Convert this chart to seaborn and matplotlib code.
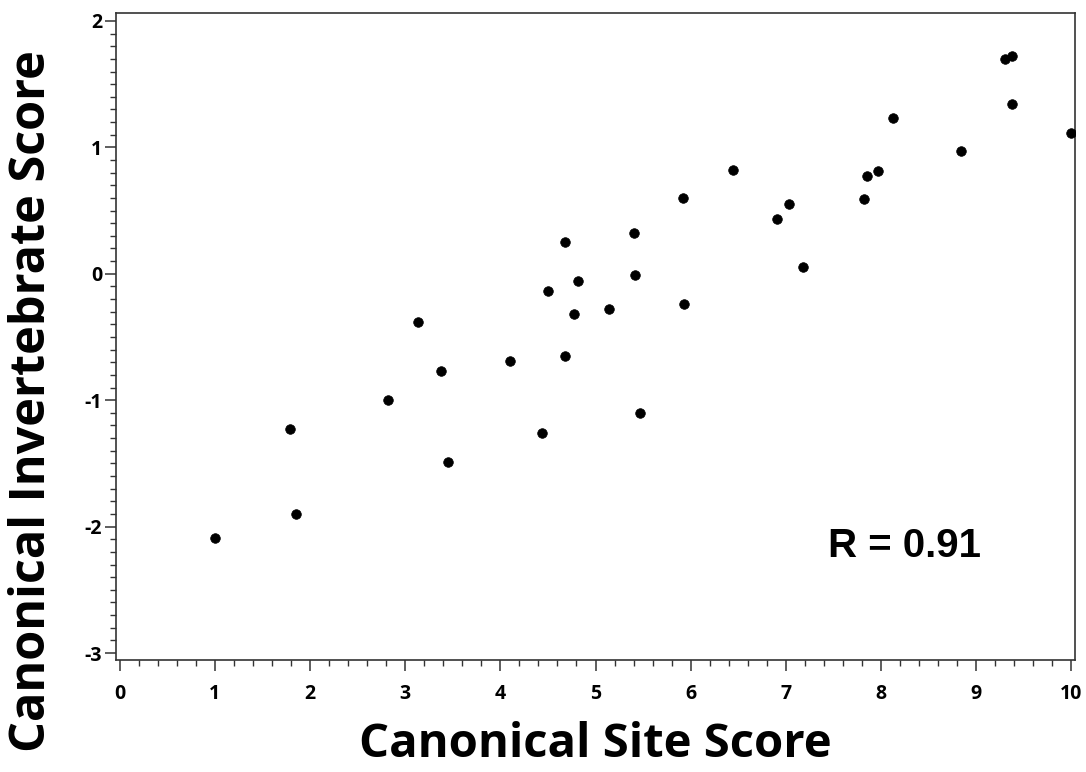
import matplotlib
matplotlib.use("Agg")
import matplotlib.pyplot as plt
import seaborn as sns
import pandas as pd
from matplotlib.ticker import MultipleLocator, FixedLocator

site_score = [1.00, 1.79, 1.85, 2.82, 3.13, 3.38, 3.45,
              5.92, 5.40, 4.68, 5.42, 4.82, 4.50, 5.93, 5.14, 4.77,
              4.10, 4.68, 5.47, 4.44,
              9.30, 9.38, 9.38, 10.00, 8.13, 8.84, 6.45, 7.97, 7.85,
              7.03, 6.91, 7.82, 7.18]
invert_score = [-2.09, -1.23, -1.90, -1.00, -0.38, -0.77, -1.49,
                0.60, 0.32, 0.25, -0.01, -0.06, -0.14, -0.24, -0.28, -0.32,
                -0.69, -0.65, -1.10, -1.26,
                1.70, 1.72, 1.34, 1.11, 1.23, 0.97, 0.82, 0.81, 0.77,
                0.55, 0.43, 0.59, 0.05]
x_ticks = [0, 1, 2, 3, 4, 5, 6, 7, 8, 9, 10]
y_ticks = [-3, -2, -1, 0, 1, 2]
annotation = "R = 0.91"

df = pd.DataFrame({"site": site_score, "invert": invert_score})

sns.set_theme(style="white")
plt.rcParams["font.family"] = ["Open Sans", "DejaVu Sans"]

fig = plt.figure(figsize=(10.86, 7.72), dpi=100)
ax = fig.add_axes([0.1068, 0.1451, 0.9899 - 0.1068, 0.9832 - 0.1451])

sns.scatterplot(data=df, x="site", y="invert", ax=ax, color="black",
                s=48, edgecolor="black", linewidth=0.5, zorder=3)

ax.set_xlim(-0.04, 10.04)
ax.set_ylim(-3.055, 2.063)
ax.xaxis.set_major_locator(FixedLocator(x_ticks))
ax.yaxis.set_major_locator(FixedLocator(y_ticks))
ax.xaxis.set_minor_locator(MultipleLocator(0.2))
ax.yaxis.set_minor_locator(MultipleLocator(0.1))
ax.set_xticklabels([str(t) for t in x_ticks])
ax.set_yticklabels([str(t).replace("\u2212", "-") for t in y_ticks])

for side in ["left", "bottom", "top", "right"]:
    ax.spines[side].set_visible(True)
    ax.spines[side].set_color("#333333")
    ax.spines[side].set_linewidth(1.2)

ax.tick_params(axis="both", which="major", direction="out", length=8, width=1.1,
               color="#333333", labelsize=14, bottom=True, left=True)
ax.tick_params(axis="both", which="minor", direction="out", length=4, width=1.0,
               color="#333333", bottom=True, left=True)
ax.tick_params(axis="x", which="both", top=False, pad=9)
ax.tick_params(axis="y", which="both", right=False, pad=2)
for lab in ax.get_xticklabels() + ax.get_yticklabels():
    lab.set_fontweight("bold")
    lab.set_color("black")

ax.set_xlabel("Canonical Site Score", fontsize=34, fontweight="bold", color="black")
ax.set_ylabel("Canonical Invertebrate Score", fontsize=35, fontweight="bold", color="black")
ax.xaxis.set_label_coords(0.5, -0.094)
ax.yaxis.set_label_coords(-0.062, 0.40)

ax.text(7.44, -2.15, annotation, fontsize=29, fontweight="bold",
        family=["Liberation Sans", "DejaVu Sans"], color="black",
        ha="left", va="center")

fig.savefig("out.png", dpi=100, facecolor="white")
